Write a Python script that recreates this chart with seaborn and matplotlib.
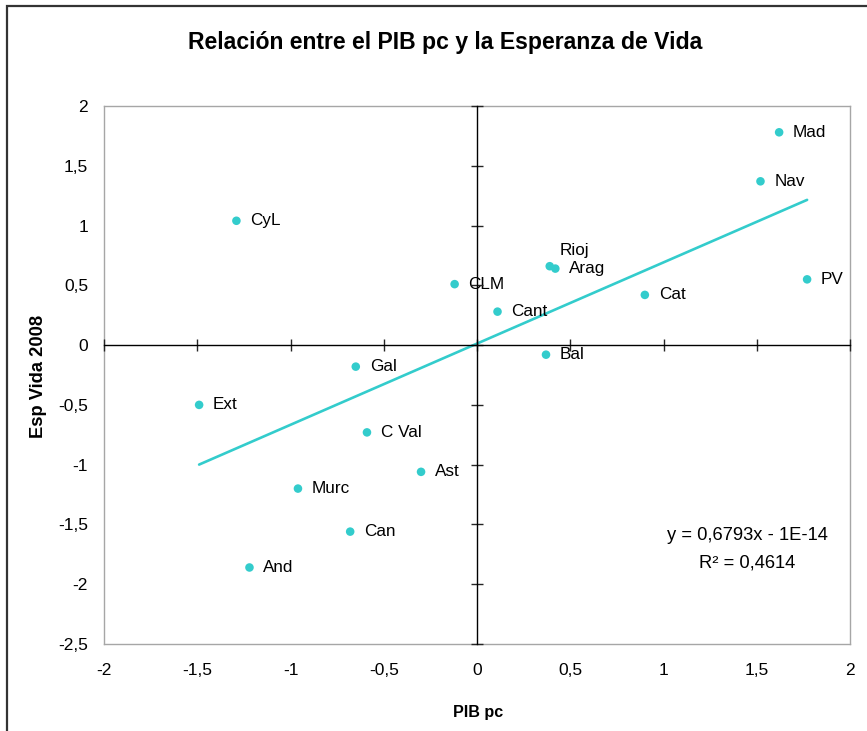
import numpy as np
import pandas as pd
import matplotlib
matplotlib.use("Agg")
import matplotlib.pyplot as plt
import seaborn as sns
from matplotlib.ticker import FuncFormatter, MultipleLocator
from matplotlib.patches import Rectangle

# Data
regions = ["Mad", "Nav", "PV", "Cat", "Rioj", "Arag", "Cant", "CLM", "CyL",
           "Bal", "Gal", "Ext", "C Val", "Ast", "Murc", "Can", "And"]
pib_pc = [1.62, 1.52, 1.77, 0.90, 0.39, 0.42, 0.11, -0.12, -1.29,
          0.37, -0.65, -1.49, -0.59, -0.30, -0.96, -0.68, -1.22]
esp_vida = [1.78, 1.37, 0.55, 0.42, 0.66, 0.64, 0.28, 0.51, 1.04,
            -0.08, -0.18, -0.50, -0.73, -1.06, -1.20, -1.56, -1.86]
equation_text = "y = 0,6793x - 1E-14"
r2_text = "R\u00b2 = 0,4614"

df = pd.DataFrame({"region": regions, "PIB pc": pib_pc, "Esp Vida 2008": esp_vida})

sns.set_style("white")
plt.rcParams["font.family"] = ["Liberation Sans", "DejaVu Sans"]
plt.rcParams["text.color"] = "black"
plt.rcParams["axes.labelcolor"] = "black"

color = "#33CCCC"
fig = plt.figure(figsize=(8.67, 7.31), dpi=100)
ax = fig.add_axes([104 / 867, 1 - 644 / 731, 746 / 867, 538 / 731])

sns.regplot(data=df, x="PIB pc", y="Esp Vida 2008", ax=ax, scatter=False, ci=None,
            color=color, line_kws={"linewidth": 1.9})
sns.scatterplot(data=df, x="PIB pc", y="Esp Vida 2008", ax=ax, color=color,
                s=38, edgecolor="none", zorder=3)

for name, x, y in zip(df["region"], df["PIB pc"], df["Esp Vida 2008"]):
    off = (7, 11) if name == "Rioj" else (10, 0)
    ax.annotate(name, (x, y), xytext=off, textcoords="offset points",
                va="center", ha="left", fontsize=12.3, color="black")

ax.set_xlim(-2, 2)
ax.set_ylim(-2.5, 2)
ax.xaxis.set_major_locator(MultipleLocator(0.5))
ax.yaxis.set_major_locator(MultipleLocator(0.5))
fmt = FuncFormatter(lambda v, p: ("%g" % v).replace(".", ","))
ax.xaxis.set_major_formatter(fmt)
ax.yaxis.set_major_formatter(fmt)
ax.tick_params(axis="both", length=0, labelsize=12.5, colors="black")
ax.tick_params(axis="x", pad=14)
ax.tick_params(axis="y", pad=11.5)
for sp in ax.spines.values():
    sp.set_color("#a6a6a6")
    sp.set_linewidth(1.0)
ax.set_xlabel("PIB pc", fontsize=11.6, fontweight="bold", va="center", color="black")
ax.set_ylabel("Esp Vida 2008", fontsize=13.2, fontweight="bold", va="center", color="black")
ax.xaxis.set_label_coords((478 - 104) / 746, -(712 - 644) / 538)
ax.yaxis.set_label_coords(-(104 - 39) / 746, (644 - 376) / 538)

# axes crossing at zero with tick marks
ax2 = fig.add_axes(ax.get_position(), sharex=ax, sharey=ax)
ax2.patch.set_visible(False)
ax2.spines["left"].set_position("zero")
ax2.spines["bottom"].set_position("zero")
ax2.spines["right"].set_visible(False)
ax2.spines["top"].set_visible(False)
for sp in ("left", "bottom"):
    ax2.spines[sp].set_color("black")
    ax2.spines[sp].set_linewidth(1.0)
ax2.tick_params(axis="both", direction="inout", length=8, width=1.0,
                labelleft=False, labelbottom=False, left=True, bottom=True)
ax2.set_xlabel("")
ax2.set_ylabel("")

ax.text((747 - 104) / 746, (644 - 536) / 538, equation_text, transform=ax.transAxes,
        ha="center", va="center", fontsize=13.2, color="black")
ax.text((747 - 104) / 746, (644 - 563) / 538, r2_text, transform=ax.transAxes,
        ha="center", va="center", fontsize=13.2, color="black")

fig.text(445 / 867, 1 - 43 / 731, "Relación entre el PIB pc y la Esperanza de Vida",
         ha="center", va="center", fontsize=16.6, fontweight="bold", color="black")

fig.patches.append(Rectangle((7 / 867, -0.1), 1.2, 1.1 - 6 / 731,
                             transform=fig.transFigure, fill=False,
                             edgecolor="#333333", linewidth=1.6))

fig.savefig("out.png", dpi=100)
